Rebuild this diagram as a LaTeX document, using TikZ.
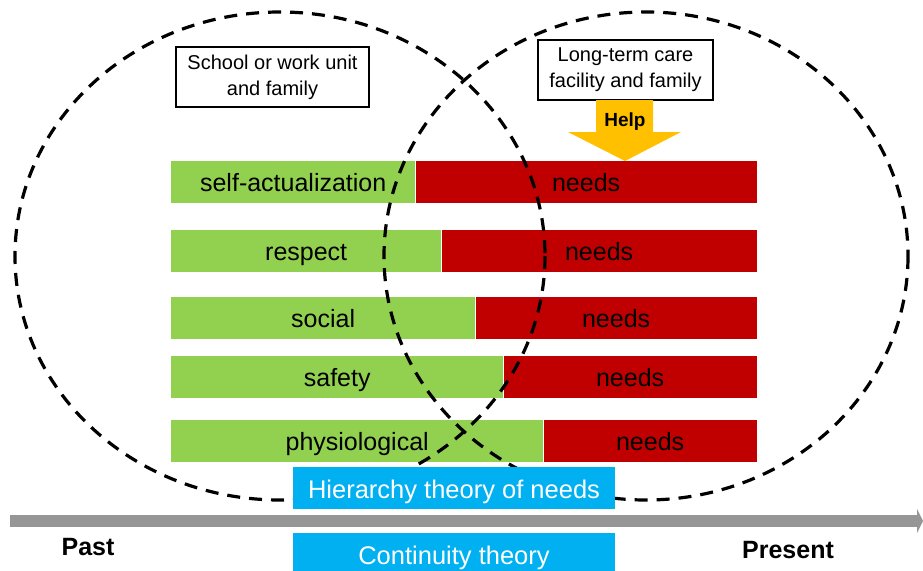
\documentclass[tikz,border=0pt]{standalone}
\usepackage{fontspec}
\setmainfont{Liberation Sans}
\usepackage{xcolor}
\usepackage{tikz}
\usetikzlibrary{arrows.meta,positioning}

\definecolor{needgreen}{HTML}{92D050}
\definecolor{needred}{HTML}{C00000}
\definecolor{helpyellow}{HTML}{FFC000}
\definecolor{theoryblue}{HTML}{00B0F0}
\definecolor{timegray}{HTML}{969696}

\begin{document}
\begin{tikzpicture}[x=1pt, y=-1pt,
  bar/.style={anchor=west, minimum height=42pt, inner sep=0pt, text height=21pt, text depth=3pt, font=\fontsize{25}{30}\selectfont},
  met/.style={bar, fill=needgreen},
  unmet/.style={bar, fill=needred},
  circle line/.style={line width=3.2pt, dash pattern=on 13pt off 9pt},
  placebox/.style={draw, line width=1.6pt, fill=white, align=center, inner sep=6pt, font=\fontsize{20}{26}\selectfont},
  theory/.style={fill=theoryblue, text=white, minimum width=322pt, minimum height=42pt, inner sep=0pt, text height=22pt, text depth=2pt, font=\fontsize{25.5}{30}\selectfont},
  timetext/.style={font=\fontsize{25}{30}\selectfont\bfseries}]
\useasboundingbox (0,0) rectangle (923,570);

% needs bars
\node (selfG) [met, minimum width=244pt] at (171,182) {self-actualization};
\node (selfR) [unmet, minimum width=341pt, right=0pt of selfG] {needs};
\node (respG) [met, minimum width=270pt] at (171,251) {respect};
\node (respR) [unmet, minimum width=315pt, right=0pt of respG] {needs};
\node (socG) [met, minimum width=304pt] at (171,318) {social};
\node (socR) [unmet, minimum width=281pt, right=0pt of socG] {needs};
\node (safeG) [met, minimum width=332pt] at (171,377) {safety};
\node (safeR) [unmet, minimum width=253pt, right=0pt of safeG] {needs};
\node (physG) [met, minimum width=372pt] at (171,441) {physiological};
\node (physR) [unmet, minimum width=213pt, right=0pt of physG] {needs};

% the two life circles
\draw[circle line] (280,256) ellipse [x radius=265, y radius=244];
\draw[circle line] (646,256) ellipse [x radius=262, y radius=244];

\node (school) [placebox, minimum width=193pt, minimum height=60pt] at (272.5,77) {School or work unit\\and family};
\node (care) [placebox, minimum width=175pt, minimum height=60pt] at (625.5,70) {Long-term care\\facility and family};

% help arrow
\fill[helpyellow] (596,100) -- (653,100) -- (653,132) -- (681,132) -- (625,161) -- (568,132) -- (596,132) -- cycle;
\node (help) at (625,122) {\fontsize{19}{22}\selectfont\bfseries Help};

% theories and time line
\node (hier) [theory] at (454,488) {Hierarchy theory of needs};
\node (cont) [theory] at (454,554) {Continuity theory};
\coordinate (tstart) at (10,521);
\coordinate (tend) at (923,521);
\draw[timegray, line width=12pt, -{Triangle[length=6pt, width=24pt]}] (tstart) -- (tend);
\node (past) [timetext] at (88,547) {Past};
\node (present) [timetext] at (788,550) {Present};
\end{tikzpicture}
\end{document}
